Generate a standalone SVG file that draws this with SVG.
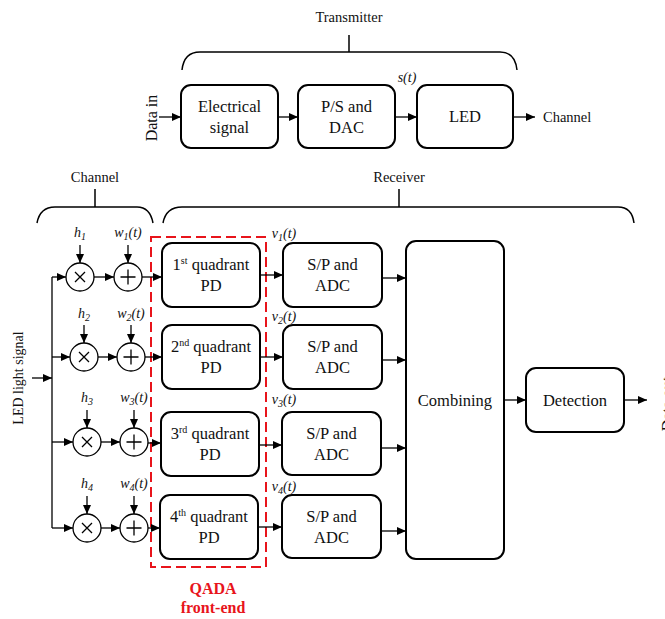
<svg xmlns="http://www.w3.org/2000/svg" width="665" height="619" viewBox="0 0 665 619" font-family="'Liberation Serif', 'Times New Roman', serif">
<style>
text{font-family:"Liberation Serif","Times New Roman",serif;fill:#111}
.box{fill:#fff;stroke:#000;stroke-width:2}
.ln{fill:none;stroke:#000;stroke-width:1.3}
.ar{fill:none;stroke:#000;stroke-width:1.3;marker-end:url(#ah)}
.br{fill:none;stroke:#000;stroke-width:1.5}
.circ{fill:#fff;stroke:#000;stroke-width:1.3}
.t16{font-family:"Liberation Serif","Times New Roman",serif;font-size:16.5px;text-anchor:middle}
.t14{font-family:"Liberation Serif","Times New Roman",serif;font-size:14.5px;text-anchor:middle}
.it{font-family:"Liberation Serif","Times New Roman",serif;font-size:14px;font-style:italic;text-anchor:middle}
.sub{font-size:10px}
.sup{font-size:10px}
.qada{font-family:"Liberation Serif","Times New Roman",serif;font-size:16px;font-weight:bold;fill:#e8141b;text-anchor:middle}
</style>
<defs>
<marker id="ah" markerUnits="userSpaceOnUse" markerWidth="9" markerHeight="8" refX="9" refY="4" orient="auto">
<path d="M0,0 L9,4 L0,8 z" fill="#000"/>
</marker>
</defs>

<g id="transmitter-brace">
<text class="t14" x="349" y="22">Transmitter</text>
<path class="br" d="M349,35 V52 M182,70 Q184,52 200,52 H500 Q515,52 517,70"/>
</g>
<g id="channel-brace">
<text class="t14" x="95" y="182">Channel</text>
<path class="br" d="M95,189 V207 M37,223 Q40,207 55,207 H137 Q150,207 153,223"/>
</g>
<g id="receiver-brace">
<text class="t14" x="399" y="182">Receiver</text>
<path class="br" d="M399,189 V207 M163,223 Q166,207 182,207 H618 Q632,207 634,223"/>
</g>

<g id="data-in"><text font-family="'Liberation Serif', 'Times New Roman', serif" font-size="16" text-anchor="middle" transform="translate(157,118) rotate(-90)">Data in</text></g>
<g id="electrical-signal">
<rect class="box" x="181" y="85" width="97" height="63" rx="10"/>
<text class="t16" x="229.5" y="112">Electrical</text>
<text class="t16" x="229.5" y="133">signal</text>
</g>
<g id="ps-dac">
<rect class="box" x="298" y="85" width="97" height="63" rx="10"/>
<text class="t16" x="346.5" y="112">P/S and</text>
<text class="t16" x="346.5" y="133">DAC</text>
</g>
<g id="led">
<rect class="box" x="417" y="85" width="96" height="63" rx="10"/>
<text class="t16" x="465" y="122">LED</text>
</g>
<g id="channel-out"><text font-family="'Liberation Serif', 'Times New Roman', serif" font-size="14.5" x="543" y="122">Channel</text></g>
<g id="st-label"><text class="it" x="407" y="82">s(t)</text></g>

<g id="led-light-signal"><text font-family="'Liberation Serif', 'Times New Roman', serif" font-size="14" text-anchor="middle" transform="translate(23,378) rotate(-90)">LED light signal</text></g>

<g id="row1-channel">
<circle class="circ" cx="80" cy="277" r="14"/>
<path class="ln" d="M75,272 L85,282 M85,272 L75,282"/>
<circle class="circ" cx="128" cy="277" r="14"/>
<path class="ln" d="M120.5,277 H135.5 M128,269.5 V284.5"/>
<text class="it" x="80" y="237">h<tspan class="sub" dy="3">1</tspan></text>
<text class="it" x="128" y="237">w<tspan class="sub" dy="3">1</tspan><tspan dy="-3">(t)</tspan></text>
</g>
<g id="row2-channel">
<circle class="circ" cx="84" cy="357" r="14"/>
<path class="ln" d="M79,352 L89,362 M89,352 L79,362"/>
<circle class="circ" cx="131" cy="357" r="14"/>
<path class="ln" d="M123.5,357 H138.5 M131,349.5 V364.5"/>
<text class="it" x="84" y="318">h<tspan class="sub" dy="3">2</tspan></text>
<text class="it" x="131" y="318">w<tspan class="sub" dy="3">2</tspan><tspan dy="-3">(t)</tspan></text>
</g>
<g id="row3-channel">
<circle class="circ" cx="87" cy="442" r="14"/>
<path class="ln" d="M82,437 L92,447 M92,437 L82,447"/>
<circle class="circ" cx="134" cy="442" r="14"/>
<path class="ln" d="M126.5,442 H141.5 M134,434.5 V449.5"/>
<text class="it" x="87" y="402">h<tspan class="sub" dy="3">3</tspan></text>
<text class="it" x="134" y="402">w<tspan class="sub" dy="3">3</tspan><tspan dy="-3">(t)</tspan></text>
</g>
<g id="row4-channel">
<circle class="circ" cx="87" cy="528" r="14"/>
<path class="ln" d="M82,523 L92,533 M92,523 L82,533"/>
<circle class="circ" cx="134" cy="528" r="14"/>
<path class="ln" d="M126.5,528 H141.5 M134,520.5 V535.5"/>
<text class="it" x="87" y="488">h<tspan class="sub" dy="3">4</tspan></text>
<text class="it" x="134" y="488">w<tspan class="sub" dy="3">4</tspan><tspan dy="-3">(t)</tspan></text>
</g>

<g id="pd1">
<rect class="box" x="162" y="243" width="98" height="64" rx="10"/>
<text class="t16" x="211" y="270">1<tspan class="sup" dy="-6">st</tspan><tspan dy="6"> quadrant</tspan></text>
<text class="t16" x="211" y="291">PD</text>
</g>
<g id="pd2">
<rect class="box" x="162" y="325" width="98" height="64" rx="10"/>
<text class="t16" x="211" y="352">2<tspan class="sup" dy="-6">nd</tspan><tspan dy="6"> quadrant</tspan></text>
<text class="t16" x="211" y="373">PD</text>
</g>
<g id="pd3">
<rect class="box" x="161" y="412" width="98" height="64" rx="10"/>
<text class="t16" x="210" y="439">3<tspan class="sup" dy="-6">rd</tspan><tspan dy="6"> quadrant</tspan></text>
<text class="t16" x="210" y="460">PD</text>
</g>
<g id="pd4">
<rect class="box" x="160" y="495" width="98" height="64" rx="10"/>
<text class="t16" x="209" y="522">4<tspan class="sup" dy="-6">th</tspan><tspan dy="6"> quadrant</tspan></text>
<text class="t16" x="209" y="543">PD</text>
</g>

<g id="qada-frontend">
<rect x="151" y="237" width="115" height="330" fill="none" stroke="#e8141b" stroke-width="2" stroke-dasharray="10,5"/>
<text class="qada" x="213" y="594">QADA</text>
<text class="qada" x="213" y="613">front-end</text>
</g>

<g id="spadc1">
<rect class="box" x="283" y="243" width="99" height="64" rx="10"/>
<text class="t16" x="332.5" y="270">S/P and</text>
<text class="t16" x="332.5" y="291">ADC</text>
</g>
<g id="spadc2">
<rect class="box" x="283" y="325" width="99" height="64" rx="10"/>
<text class="t16" x="332.5" y="352">S/P and</text>
<text class="t16" x="332.5" y="373">ADC</text>
</g>
<g id="spadc3">
<rect class="box" x="282" y="412" width="99" height="63" rx="10"/>
<text class="t16" x="331.5" y="439">S/P and</text>
<text class="t16" x="331.5" y="460">ADC</text>
</g>
<g id="spadc4">
<rect class="box" x="282" y="495" width="99" height="63" rx="10"/>
<text class="t16" x="331.5" y="522">S/P and</text>
<text class="t16" x="331.5" y="543">ADC</text>
</g>

<g id="v-labels">
<text class="it" x="284" y="238">v<tspan class="sub" dy="3">1</tspan><tspan dy="-3">(t)</tspan></text>
<text class="it" x="284" y="321">v<tspan class="sub" dy="3">2</tspan><tspan dy="-3">(t)</tspan></text>
<text class="it" x="284" y="404">v<tspan class="sub" dy="3">3</tspan><tspan dy="-3">(t)</tspan></text>
<text class="it" x="284" y="491">v<tspan class="sub" dy="3">4</tspan><tspan dy="-3">(t)</tspan></text>
</g>

<g id="combining">
<rect class="box" x="406" y="241" width="98" height="318" rx="10"/>
<text class="t16" x="455" y="406">Combining</text>
</g>
<g id="detection">
<rect class="box" x="526" y="368" width="98" height="64" rx="10"/>
<text class="t16" x="575" y="406">Detection</text>
</g>
<g id="data-out"><text font-family="'Liberation Serif', 'Times New Roman', serif" font-size="16" text-anchor="middle" transform="translate(673,404) rotate(-90)">Data out</text></g>

<g id="connectors">
<path class="ar" d="M159,117 H181"/>
<path class="ar" d="M278,117 H298"/>
<path class="ar" d="M395,117 H417"/>
<path class="ar" d="M513,117 H535"/>

<path class="ar" d="M32,378 H52"/>
<path class="ln" d="M52,277 V528"/>
<path class="ar" d="M52,277 H66"/>
<path class="ar" d="M52,357 H70"/>
<path class="ar" d="M52,442 H73"/>
<path class="ar" d="M52,528 H73"/>

<path class="ar" d="M80,245 V263"/>
<path class="ar" d="M128,245 V263"/>
<path class="ar" d="M84,325 V343"/>
<path class="ar" d="M131,325 V343"/>
<path class="ar" d="M87,410 V428"/>
<path class="ar" d="M134,410 V428"/>
<path class="ar" d="M87,496 V514"/>
<path class="ar" d="M134,496 V514"/>

<path class="ar" d="M94,277 H114"/>
<path class="ar" d="M98,357 H117"/>
<path class="ar" d="M101,442 H120"/>
<path class="ar" d="M101,528 H120"/>

<path class="ar" d="M142,277 H162"/>
<path class="ar" d="M145,357 H162"/>
<path class="ar" d="M148,443 H161"/>
<path class="ar" d="M148,528 H160"/>

<path class="ar" d="M260,275 H283"/>
<path class="ar" d="M260,357 H283"/>
<path class="ar" d="M259,445 H282"/>
<path class="ar" d="M258,527 H282"/>

<path class="ar" d="M382,278 H406"/>
<path class="ar" d="M382,360 H406"/>
<path class="ar" d="M381,448 H406"/>
<path class="ar" d="M381,531 H406"/>

<path class="ar" d="M504,400 H526"/>
<path class="ar" d="M624,400 H647"/>
</g>
</svg>
